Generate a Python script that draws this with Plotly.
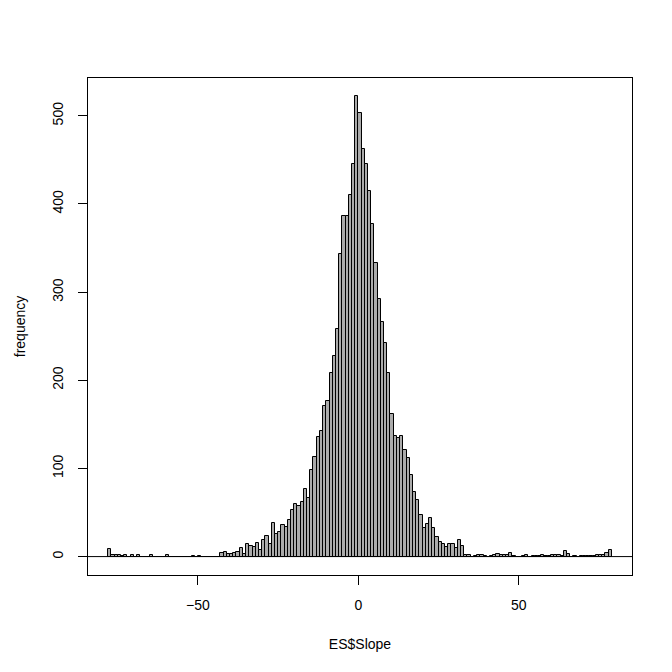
import plotly.graph_objects as go

# Histogram bins: left edges (width 1) from -78 to 78 and counts
bin_start = -78
bin_width = 1
counts = [
    9, 2, 2, 2, 1, 2, 0, 2, 0, 2,          # -78 .. -69
    0, 0, 0, 2, 0, 0, 0, 0, 2, 0,          # -68 .. -59
    0, 0, 0, 0, 0, 0, 1, 0, 1, 0,          # -58 .. -49
    0, 0, 0, 0, 0, 4, 5, 3, 3, 4,          # -48 .. -39
    5, 10, 3, 14, 12, 11, 15, 7, 19, 23,   # -38 .. -29
    14, 38, 26, 28, 36, 34, 42, 53, 60, 57,  # -28 .. -19
    62, 77, 66, 98, 113, 136, 142, 171, 176, 208,  # -18 .. -9
    227, 258, 343, 386, 386, 410, 445, 522, 503, 462,  # -8 .. 1
    445, 415, 377, 333, 292, 266, 242, 208, 162, 137,  # 2 .. 11
    135, 137, 121, 112, 93, 73, 64, 47, 32, 37,  # 12 .. 21
    44, 33, 22, 17, 14, 11, 14, 14, 10, 19,   # 22 .. 31
    12, 2, 2, 0, 1, 2, 2, 1, 0, 1,            # 32 .. 41
    2, 3, 2, 2, 2, 4, 1, 0, 0, 1,             # 42 .. 51
    2, 0, 1, 1, 1, 2, 1, 1, 2, 2,             # 52 .. 61
    2, 1, 6, 3, 0, 1, 0, 1, 1, 1,             # 62 .. 71
    1, 1, 2, 2, 2, 4, 7,                      # 72 .. 78
]
x_ticks = [-50, 0, 50]
y_ticks = [0, 100, 200, 300, 400, 500]
x_title = "ES$Slope"
y_title = "frequency"

lefts = [bin_start + i * bin_width for i in range(len(counts))]
centers = [l + bin_width / 2 for l in lefts]
data_min = lefts[0]
data_max = lefts[-1] + bin_width
pad_x = 0.04 * (data_max - data_min)
pad_y = 0.04 * max(counts)

fig = go.Figure()
fig.add_trace(go.Bar(
    x=centers, y=counts, width=bin_width,
    marker=dict(color="#ABABAB", line=dict(color="black", width=1)),
    hoverinfo="skip",
))

fig.add_shape(type="line", xref="paper", x0=0, x1=1, yref="y", y0=0, y1=0,
              line=dict(color="black", width=1))

font = dict(family="Liberation Sans, Arial, sans-serif", size=14, color="black")

fig.update_layout(
    width=664, height=656,
    margin=dict(l=70, r=40, t=70, b=89),
    paper_bgcolor="white", plot_bgcolor="white",
    bargap=0, showlegend=False,
    font=font,
    xaxis=dict(
        range=[data_min - pad_x, data_max + pad_x],
        tickvals=x_ticks,
        ticks="outside", ticklen=9, tickcolor="black", tickwidth=1,
        ticklabelstandoff=8,
        showline=True, linecolor="black", linewidth=1, mirror=True,
        showgrid=False, zeroline=False,
        title=dict(text=x_title, standoff=27, font=font),
    ),
    yaxis=dict(
        range=[-pad_y, max(counts) + pad_y],
        tickvals=y_ticks,
        ticks="outside", ticklen=9, tickcolor="black", tickwidth=1,
        tickangle=-90, ticklabelstandoff=9,
        showline=True, linecolor="black", linewidth=1, mirror=True,
        showgrid=False, zeroline=False,
        title=dict(text=y_title, standoff=21, font=font),
    ),
)

fig.write_html("out.html")
